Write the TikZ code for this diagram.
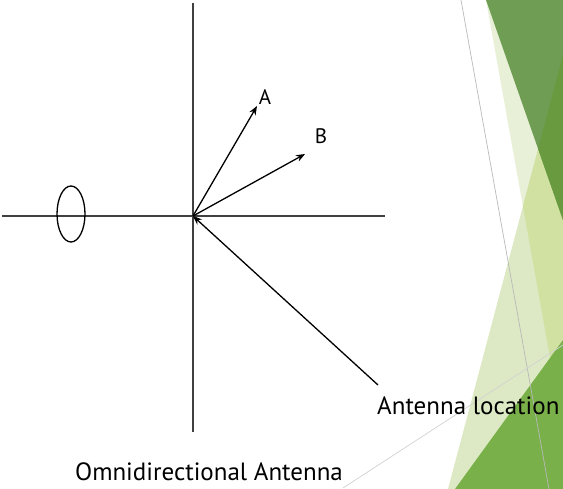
\documentclass[tikz,border=0pt]{standalone}
\usepackage{fontspec}
\setmainfont{PT Sans}
\usetikzlibrary{positioning, arrows.meta, shapes.geometric}
\definecolor{facetdark}{HTML}{709D54}
\definecolor{facetdeep}{HTML}{6A9A3F}
\definecolor{facetpale}{HTML}{E8F0D8}
\definecolor{facetlight}{HTML}{DDE9C4}
\definecolor{facetmid}{HTML}{D0E1A2}
\definecolor{facetgreen}{HTML}{79B04A}

\begin{document}
\begin{tikzpicture}[
    x=1pt, y=-1pt,
    axis/.style={line width=1.8pt, black!75},
    vec/.style={-{Stealth[length=9pt,width=7pt]}, line width=1.3pt},
    tag/.style={font=\fontsize{21}{25}\selectfont, inner sep=0pt},
    caption/.style={font=\fontsize{25}{30}\selectfont, inner sep=0pt},
    guide/.style={line width=0.7pt, gray!55},
    omni/.style={ellipse, draw, line width=1.3pt, minimum width=28pt, minimum height=56pt, inner sep=0pt}
]
\useasboundingbox (0,0) rectangle (563,489);

% Facet background on the right
\fill[facetpale] (486,0) -- (563,0) -- (563,430) -- cycle;
\fill[facetlight] (563,55) -- (448,489) -- (563,489) -- cycle;
\begin{scope}
  \clip (563,55) -- (448,489) -- (563,489) -- cycle;
  \fill[facetmid] (486,0) -- (563,0) -- (563,430) -- cycle;
\end{scope}
\fill[facetdark] (486,0) -- (563,0) -- (563,220) -- cycle;
\begin{scope}
  \clip (486,0) -- (563,0) -- (563,220) -- cycle;
  \fill[facetdeep] (563,55) -- (448,489) -- (563,489) -- cycle;
\end{scope}
\fill[facetgreen] (563,340) -- (455,489) -- (563,489) -- cycle;
\draw[guide] (461,0) -- (549,489);
\draw[guide, gray!35] (343,488) -- (563,345);

% Axes
\coordinate (o) at (193,216);
\coordinate (xl) at (2,216);
\coordinate (xr) at (385,216);
\coordinate (yt) at (193,3);
\coordinate (yb) at (193,432);
\draw[axis] (xl) -- (xr);
\draw[axis] (yt) -- (yb);

% Antenna element
\node[omni] (ant) at (71,214) {};

% Vectors
\coordinate (tipA) at (257,106);
\coordinate (tipB) at (305,154);
\coordinate (loc) at (378,385);
\draw[vec] (o) -- (tipA);
\draw[vec] (o) -- (tipB);
\draw[vec] (loc) -- (o);

% Labels
\node[tag] (labA) at (265,97) {A};
\node[tag] (labB) at (321,136) {B};
\node[caption, anchor=west] (labLoc) at (377,406) {Antenna location};
\node[caption] (labOmni) at (209,472) {Omnidirectional Antenna};

\end{tikzpicture}
\end{document}
